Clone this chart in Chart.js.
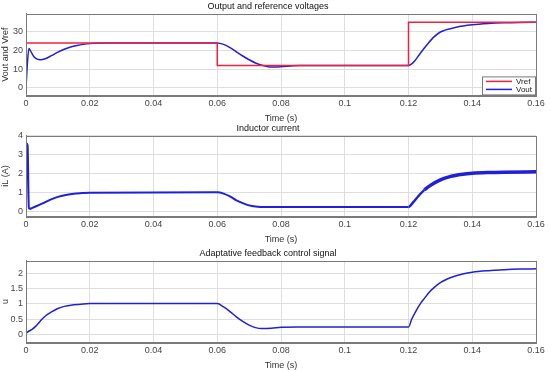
<!DOCTYPE html>
<html>
<head>
<meta charset="utf-8">
<script src="https://cdn.jsdelivr.net/npm/chart.js@4.4.1/dist/chart.umd.min.js"></script>
<style>
  body { margin: 0; background: #fff; }
  .box { position: absolute; left: 0; width: 550px; }
</style>
</head>
<body>
<div class="box" style="top:0px;height:125px"><canvas id="voltChart"></canvas></div>
<div class="box" style="top:122px;height:124px"><canvas id="currentChart"></canvas></div>
<div class="box" style="top:247px;height:125px"><canvas id="uChart"></canvas></div>
<script>
// data (time in s)
var vrefT = [0, 0.06, 0.12, 0.16];
var vrefV = [24, 12, 35, 35];

var voutT = [0, 0.0004, 0.0009, 0.0015, 0.0025, 0.0035, 0.0045, 0.006, 0.008, 0.010, 0.012, 0.014, 0.016, 0.018, 0.020, 0.023, 0.027, 0.06,
  0.062, 0.064, 0.066, 0.068, 0.070, 0.072, 0.074, 0.0765, 0.079, 0.082, 0.086, 0.09, 0.12,
  0.121, 0.122, 0.123, 0.124, 0.126, 0.128, 0.130, 0.135, 0.14, 0.145, 0.15, 0.155, 0.16];
var voutV = [0, 12, 21, 19.5, 16.6, 15.3, 15, 15.5, 17.2, 19.1, 20.6, 21.8, 22.6, 23.2, 23.6, 23.9, 24, 24,
  23.2, 21.5, 19.2, 17, 15, 13.3, 12.1, 11.2, 11.2, 11.6, 11.9, 12, 12,
  12.8, 14.5, 16.8, 19.1, 23.4, 27.2, 29.8, 32.3, 33.6, 34.3, 34.7, 34.9, 35];

var ilT = [0, 0.0002, 0.0005, 0.0009, 0.0012, 0.002, 0.003, 0.005, 0.0075, 0.010, 0.0125, 0.015, 0.0175, 0.020, 0.06,
  0.062, 0.064, 0.066, 0.068, 0.070, 0.072, 0.075, 0.12,
  0.1215, 0.123, 0.125, 0.127, 0.130, 0.133, 0.137, 0.14, 0.145, 0.15, 0.16];
var ilV = [0, 3.6, 3.5, 0.2, 0.15, 0.2, 0.27, 0.42, 0.62, 0.78, 0.88, 0.95, 0.98, 1.0, 1.02,
  0.95, 0.8, 0.6, 0.45, 0.33, 0.27, 0.24, 0.25,
  0.5, 0.8, 1.15, 1.4, 1.68, 1.85, 1.97, 2.02, 2.06, 2.08, 2.1];

var uT = [0, 0.001, 0.002, 0.003, 0.004, 0.005, 0.006, 0.008, 0.010, 0.012, 0.015, 0.018, 0.020, 0.06,
  0.062, 0.064, 0.066, 0.068, 0.070, 0.072, 0.074, 0.077, 0.080, 0.085, 0.12,
  0.121, 0.1225, 0.124, 0.125, 0.1265, 0.128, 0.130, 0.132, 0.134, 0.137, 0.14, 0.145, 0.15, 0.155, 0.16];
var uV = [0.05, 0.12, 0.18, 0.27, 0.38, 0.5, 0.6, 0.74, 0.85, 0.92, 0.97, 1.0, 1.01, 1.01,
  0.9, 0.75, 0.58, 0.43, 0.31, 0.23, 0.2, 0.21, 0.24, 0.25, 0.25,
  0.5, 0.8, 1.05, 1.18, 1.38, 1.53, 1.69, 1.8, 1.88, 1.97, 2.03, 2.08, 2.11, 2.13, 2.14];

var xTicks = [0, 0.02, 0.04, 0.06, 0.08, 0.1, 0.12, 0.14, 0.16];

var FONT = 'Liberation Sans, Arial, sans-serif';
var RED = '#f2203c';
var BLUE = '#2020d8';

function pts(t, v) {
  return t.map(function (x, i) { return { x: x, y: v[i] }; });
}

// frame round the plot area, like matlab axes box
var boxPlugin = {
  id: 'boxPlugin',
  afterDraw: function (chart) {
    var a = chart.chartArea, c = chart.ctx;
    c.save();
    c.strokeStyle = '#7a7a7a';
    c.lineWidth = 1;
    c.strokeRect(Math.round(a.left) + 0.5, Math.round(a.top) + 0.5, Math.round(a.right - a.left), Math.round(a.bottom - a.top));
    c.restore();
  }
};

// legend drawn inside the axes, bottom right
var insideLegend = {
  id: 'insideLegend',
  afterDraw: function (chart, args, opts) {
    if (!opts.show) return;
    var a = chart.chartArea, c = chart.ctx;
    var w = 53, h = 18;
    var x0 = a.right - w - 1, y0 = a.bottom - h - 1;
    c.save();
    c.fillStyle = '#fff';
    c.fillRect(x0, y0, w, h);
    c.strokeStyle = '#7a7a7a';
    c.lineWidth = 1;
    c.strokeRect(x0 + 0.5, y0 + 0.5, w, h);
    c.font = '8px ' + FONT;
    c.textBaseline = 'middle';
    chart.data.datasets.forEach(function (ds, i) {
      var y = y0 + 5 + i * 8;
      c.strokeStyle = ds.borderColor;
      c.lineWidth = 1.5;
      c.beginPath();
      c.moveTo(x0 + 4, y);
      c.lineTo(x0 + 30, y);
      c.stroke();
      c.fillStyle = '#222';
      c.fillText(ds.label, x0 + 34, y);
    });
    c.restore();
  }
};

function makeChart(id, title, yTitle, datasets, ymin, ymax, yTicks, legend) {
  var ctx = document.getElementById(id);
  return new Chart(ctx, {
    type: 'line',
    data: { datasets: datasets },
    plugins: [boxPlugin, insideLegend],
    options: {
      responsive: true,
      maintainAspectRatio: false,
      animation: false,
      layout: { padding: { left: 0, right: 14, top: 0, bottom: 0 } },
      elements: { point: { radius: 0 }, line: { borderWidth: 1.5 } },
      plugins: {
        legend: { display: false },
        tooltip: { enabled: false },
        title: {
          display: true,
          text: title,
          color: '#111',
          font: { family: FONT, size: 9, weight: 'normal' },
          padding: { top: 1, bottom: 2 }
        },
        insideLegend: { show: legend }
      },
      scales: {
        x: {
          type: 'linear',
          min: 0,
          max: 0.16,
          afterBuildTicks: function (s) { s.ticks = xTicks.map(function (v) { return { value: v }; }); },
          ticks: {
            color: '#444',
            font: { family: FONT, size: 9 },
            padding: 3,
            maxRotation: 0,
            callback: function (v) { return String(+v.toFixed(2)); }
          },
          grid: { color: '#dedede', drawTicks: false },
          border: { color: '#7a7a7a' },
          title: {
            display: true,
            text: 'Time (s)',
            color: '#333',
            font: { family: FONT, size: 9 },
            padding: { top: 1, bottom: 1 }
          }
        },
        y: {
          min: ymin,
          max: ymax,
          afterBuildTicks: function (s) { s.ticks = yTicks.map(function (v) { return { value: v }; }); },
          afterFit: function (s) { s.width = 26; },
          ticks: {
            color: '#444',
            font: { family: FONT, size: 9 },
            padding: 3,
            callback: function (v) { return String(+v.toFixed(2)); }
          },
          grid: { color: '#dedede', drawTicks: false },
          border: { color: '#7a7a7a' },
          title: {
            display: true,
            text: yTitle,
            color: '#333',
            font: { family: FONT, size: 9 },
            padding: { top: 0, bottom: 0 }
          }
        }
      }
    }
  });
}

// output and reference voltages
var voltChart = makeChart('voltChart', 'Output and reference voltages', 'Vout and Vref', [
  { label: 'Vref', data: pts(vrefT, vrefV), borderColor: RED, stepped: true, borderWidth: 1.5 },
  { label: 'Vout', data: pts(voutT, voutV), borderColor: BLUE, cubicInterpolationMode: 'monotone' }
], -4, 39.5, [0, 10, 20, 30], true);

// inductor current (thicker where ripple shows)
var currentChart = makeChart('currentChart', 'Inductor current', 'iL (A)', [
  { label: 'iL', data: pts(ilT, ilV), borderColor: BLUE, cubicInterpolationMode: 'monotone', borderWidth: 2,
    segment: { borderWidth: function (s) { return s.p0.parsed.x >= 0.124 ? 3.5 : (s.p0.parsed.x >= 0.12 ? 2.5 : 2); } } }
], -0.25, 4, [0, 1, 2, 3, 4], false);

// adaptative feedback control signal
var uChart = makeChart('uChart', 'Adaptative feedback control signal', 'u', [
  { label: 'u', data: pts(uT, uV), borderColor: BLUE, cubicInterpolationMode: 'monotone' }
], -0.25, 2.4, [0, 0.5, 1, 1.5, 2], false);
</script>
</body>
</html>
